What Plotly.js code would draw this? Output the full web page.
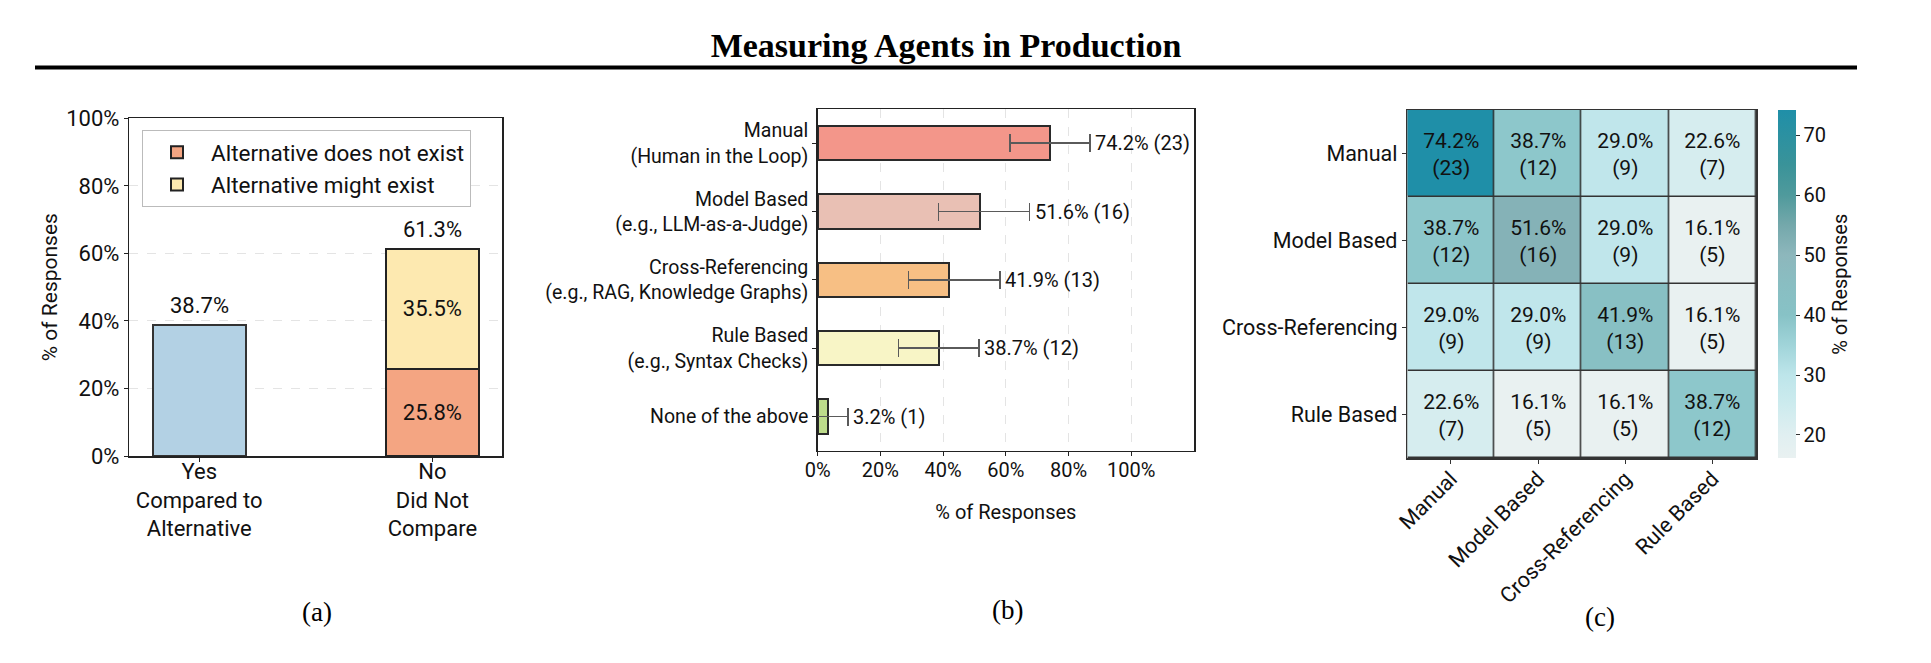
<!DOCTYPE html>
<html>
<head>
<meta charset="utf-8">
<script src="https://cdn.plot.ly/plotly-3.0.1.min.js"></script>
<style>html,body{margin:0;padding:0;background:#fff;}#chart{width:1931px;height:663px;}</style>
</head>
<body>
<div id="chart"></div>
<script>
// ---------- Panel (a) data ----------
const catA = ['Yes<br>Compared to<br>Alternative', 'No<br>Did Not<br>Compare'];
const yesVals = [38.7];
const notExistVals = [25.8];
const mightExistVals = [35.5];
const totalsA = [38.7, 61.3];
const tickA = [0, 20, 40, 60, 80, 100];
const tickTextA = ['0%', '20%', '40%', '60%', '80%', '100%'];

// ---------- Panel (b) data ----------
const catB = ['Manual<br>(Human in the Loop)', 'Model Based<br>(e.g., LLM-as-a-Judge)',
              'Cross-Referencing<br>(e.g., RAG, Knowledge Graphs)', 'Rule Based<br>(e.g., Syntax Checks)',
              'None of the above'];
const valsB = [74.2, 51.6, 41.9, 38.7, 3.2];
const countsB = [23, 16, 13, 12, 1];
const errPlusB = [12.7, 16.0, 16.2, 12.8, 6.4];
const errMinusB = [12.9, 13.0, 12.9, 13.0, 3.2];
const colorsB = ['#f3968a', '#e9c0b4', '#f7bf84', '#f8f5c6', '#bddb8b'];
const tickB = [0, 20, 40, 60, 80, 100];
const tickTextB = ['0%', '20%', '40%', '60%', '80%', '100%'];

// ---------- Panel (c) data ----------
const catC = ['Manual', 'Model Based', 'Cross-Referencing', 'Rule Based'];
const zC = [
  [74.2, 38.7, 29.0, 22.6],
  [38.7, 51.6, 29.0, 16.1],
  [29.0, 29.0, 41.9, 16.1],
  [22.6, 16.1, 16.1, 38.7]
];
const countsC = [
  [23, 12, 9, 7],
  [12, 16, 9, 5],
  [9, 9, 13, 5],
  [7, 5, 5, 12]
];
const cbTicks = [20, 30, 40, 50, 60, 70];

const FONT = 'Roboto, "Open Sans", sans-serif';
const SERIF = '"Liberation Serif", "DejaVu Serif", serif';
const W = 1931, H = 663;
const px = v => v / W;
const py = v => 1 - v / H;

// ---------- Traces ----------
const traces = [];
traces.push({
  type: 'bar', x: [catA[0]], y: yesVals, xaxis: 'x', yaxis: 'y', width: 0.4,
  marker: {color: '#b3d1e4', line: {color: '#333', width: 2}},
  showlegend: false, hoverinfo: 'skip'
});
traces.push({
  type: 'bar', x: [catA[1]], y: notExistVals, xaxis: 'x', yaxis: 'y', width: 0.4,
  name: 'Alternative does not exist',
  marker: {color: '#f4a582', line: {color: '#222', width: 2}},
  text: notExistVals.map(v => v.toFixed(1) + '%'), textposition: 'inside',
  insidetextanchor: 'middle', textangle: 0, constraintext: 'none',
  textfont: {size: 22, color: '#111', family: FONT}, hoverinfo: 'skip'
});
traces.push({
  type: 'bar', x: [catA[1]], y: mightExistVals, xaxis: 'x', yaxis: 'y', width: 0.4,
  name: 'Alternative might exist',
  marker: {color: '#fde9b0', line: {color: '#222', width: 2}},
  text: mightExistVals.map(v => v.toFixed(1) + '%'), textposition: 'inside',
  insidetextanchor: 'middle', textangle: 0, constraintext: 'none',
  textfont: {size: 22, color: '#111', family: FONT}, hoverinfo: 'skip'
});

traces.push({
  type: 'bar', orientation: 'h', y: catB, x: valsB, xaxis: 'x2', yaxis: 'y2', width: 0.5,
  marker: {color: colorsB, line: {color: '#2a2a2a', width: 2}},
  error_x: {type: 'data', symmetric: false, array: errPlusB, arrayminus: errMinusB,
            color: '#5a5a5a', thickness: 1.5, width: 9},
  showlegend: false, hoverinfo: 'skip'
});

const textC = zC.map((row, i) => row.map((v, j) => v.toFixed(1) + '%<br>(' + countsC[i][j] + ')'));
const cs = [
  [0.000, '#e9f1f1'], [0.067, '#e0eff1'], [0.153, '#cdebee'], [0.239, '#bde5ea'],
  [0.325, '#a0d4d9'], [0.411, '#87c2c6'], [0.497, '#89bec2'], [0.584, '#8db7bc'],
  [0.670, '#74a8ab'], [0.756, '#4f9a9c'], [0.842, '#3a9399'], [1.000, '#1f8fa8']
];
traces.push({
  type: 'heatmap', x: catC, y: catC, z: zC, xaxis: 'x3', yaxis: 'y3',
  zmin: 16.1, zmax: 74.2, colorscale: cs, xgap: 1.5, ygap: 1.5,
  text: textC, texttemplate: '%{text}',
  textfont: {size: 21, color: '#111', family: FONT},
  hoverinfo: 'skip',
  colorbar: {
    x: px(1778), xanchor: 'left', xref: 'paper', xpad: 0,
    y: py(458.3), yanchor: 'bottom', ypad: 0,
    len: 348, lenmode: 'pixels', thickness: 18, outlinewidth: 0,
    tickvals: cbTicks, ticks: 'outside', ticklen: 4, tickcolor: '#333',
    tickfont: {size: 20, family: FONT, color: '#111'},
    title: {text: '% of Responses', side: 'right', font: {size: 20, family: FONT, color: '#111'}}
  }
});

// ---------- Annotations ----------
const ann = [];
catA.forEach((c, i) => {
  ann.push({xref: 'x', yref: 'y', x: c, y: totalsA[i], text: totalsA[i].toFixed(1) + '%',
    showarrow: false, yanchor: 'bottom', yshift: 5, font: {size: 22, family: FONT, color: '#111'}});
});
catB.forEach((c, i) => {
  ann.push({xref: 'x2', yref: 'y2', x: valsB[i] + errPlusB[i], y: c,
    text: valsB[i].toFixed(1) + '% (' + countsB[i] + ')', showarrow: false,
    xanchor: 'left', xshift: 3, font: {size: 20, family: FONT, color: '#111'}});
});
[['(a)', 317, 612], ['(b)', 1008, 610], ['(c)', 1600, 617]].forEach(a => {
  ann.push({xref: 'paper', yref: 'paper', x: px(a[1]), y: py(a[2]), text: a[0], showarrow: false,
    xanchor: 'center', yanchor: 'middle', font: {size: 27, family: SERIF, color: '#000'}});
});

const frame = {showline: true, mirror: true, linecolor: '#222', linewidth: 1.5, zeroline: false};

const layout = {
  width: W, height: H, autosize: false,
  margin: {l: 0, r: 0, t: 0, b: 0},
  paper_bgcolor: '#fff', plot_bgcolor: '#fff',
  font: {family: FONT, color: '#111', size: 20},
  barmode: 'stack',
  title: {text: '<b>Measuring Agents in Production</b>', x: px(946), xanchor: 'center',
          y: py(45), yanchor: 'middle', font: {family: SERIF, size: 34, color: '#000'}},
  showlegend: true,
  legend: {x: px(142), y: py(130), xanchor: 'left', yanchor: 'top', traceorder: 'normal',
           bgcolor: '#fff', bordercolor: '#bbb', borderwidth: 1,
           font: {size: 22.5, family: FONT, color: '#111'}, itemwidth: 58},
  xaxis: Object.assign({}, frame, {domain: [px(129.3), px(502.3)], anchor: 'y',
    type: 'category', categoryorder: 'array', categoryarray: catA, range: [-0.3, 1.3],
    ticks: 'outside', ticklen: 4, tickcolor: '#222', showgrid: false, ticklabelstandoff: -9,
    tickfont: {size: 22, family: FONT, color: '#111'}}),
  yaxis: Object.assign({}, frame, {domain: [py(456), py(118.3)], anchor: 'x',
    range: [0, 100], tickvals: tickA, ticktext: tickTextA, ticks: 'outside', ticklen: 4, tickcolor: '#222',
    showgrid: true, gridcolor: '#e4e4e4', griddash: 'dash', gridwidth: 1,
    tickfont: {size: 22, family: FONT, color: '#111'},
    title: {text: '% of Responses', standoff: 3, font: {size: 21, family: FONT, color: '#111'}}}),
  xaxis2: Object.assign({}, frame, {domain: [px(817.7), px(1194)], anchor: 'y2',
    range: [0, 120], tickvals: tickB, ticktext: tickTextB, ticks: 'outside', ticklen: 4, tickcolor: '#222',
    showgrid: true, gridcolor: '#e4e4e4', griddash: 'dash', gridwidth: 1, ticklabelstandoff: -3,
    tickfont: {size: 20, family: FONT, color: '#111'},
    title: {text: '% of Responses', standoff: 24, font: {size: 20, family: FONT, color: '#111'}}}),
  yaxis2: Object.assign({}, frame, {domain: [py(450.7), py(109)], anchor: 'x2',
    type: 'category', categoryorder: 'array', categoryarray: catB, range: [4.5, -0.5],
    ticks: 'outside', ticklen: 4, tickcolor: '#222', showgrid: false,
    tickfont: {size: 19.5, family: FONT, color: '#111'}}),
  xaxis3: {domain: [px(1407.3), px(1756)], anchor: 'y3', type: 'category',
    categoryorder: 'array', categoryarray: catC, range: [-0.5, 3.5],
    showline: true, mirror: true, linecolor: '#333', linewidth: 1.5, zeroline: false, showgrid: false,
    ticks: 'outside', ticklen: 4, tickcolor: '#333', tickangle: -45, ticklabelstandoff: -6,
    tickfont: {size: 21.5, family: FONT, color: '#111'}},
  yaxis3: {domain: [py(458.3), py(110)], anchor: 'x3', type: 'category',
    categoryorder: 'array', categoryarray: catC, range: [3.5, -0.5],
    showline: true, mirror: true, linecolor: '#333', linewidth: 1.5, zeroline: false, showgrid: false,
    ticks: 'outside', ticklen: 4, tickcolor: '#333',
    tickfont: {size: 21.5, family: FONT, color: '#111'}},
  shapes: [
    {type: 'line', xref: 'paper', yref: 'paper', x0: px(35), x1: px(1857), y0: py(67.5), y1: py(67.5),
     line: {color: '#000', width: 4}},
    {type: 'rect', xref: 'x3', yref: 'y3', x0: -0.5, x1: 3.5, y0: -0.5, y1: 3.5, layer: 'below',
     fillcolor: '#333', line: {width: 0}}
  ],
  annotations: ann
};

Plotly.newPlot('chart', traces, layout, {displayModeBar: false, staticPlot: true});
</script>
</body>
</html>
